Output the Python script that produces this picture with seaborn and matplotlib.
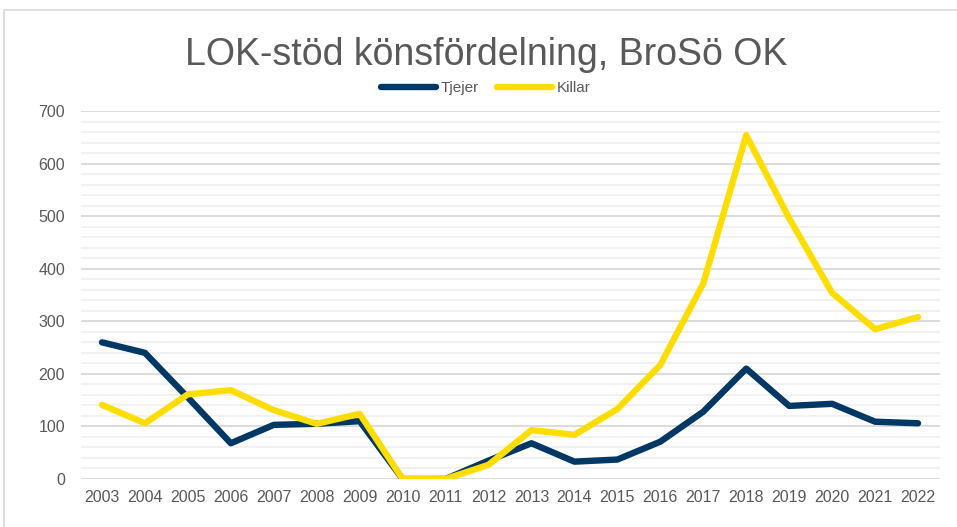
import numpy as np
import pandas as pd
import seaborn as sns
import matplotlib.pyplot as plt
from matplotlib.patches import Rectangle

# ----------------------------------------------------------------------------
# data
# ----------------------------------------------------------------------------
years = list(range(2003, 2023))
tjejer = [260, 240, 155, 68, 103, 105, 110, 0, 0, 35,
          68, 33, 37, 71, 128, 210, 139, 143, 109, 106]
killar = [141, 106, 161, 169, 131, 105, 124, 0, 0, 27,
          93, 84, 133, 217, 372, 654, 496, 354, 285, 308]
series_names = ["Tjejer", "Killar"]
series_colors = ["#003865", "#FFDD00"]

df = pd.DataFrame({"År": years * 2,
                   "Antal": tjejer + killar,
                   "Kön": ["Tjejer"] * len(years) + ["Killar"] * len(years)})

# ----------------------------------------------------------------------------
# plot
# ----------------------------------------------------------------------------
sns.set_style("white")
plt.rcParams['font.family'] = ['Liberation Sans', 'DejaVu Sans']

fig = plt.figure(figsize=(9.57, 5.27), dpi=100)
ax = fig.add_axes([80.5 / 957, 1 - 479 / 527, (939.5 - 80.5) / 957, (479 - 111) / 527])

# gridlines (minor every 20, major every 100)
for v in np.arange(0, 701, 20):
    major = v % 100 == 0
    ax.axhline(v, color="#d9d9d9" if major else "#f0f0f0", lw=1.3, zorder=0)

sns.lineplot(data=df, x="År", y="Antal", hue="Kön", hue_order=series_names,
             palette=series_colors, lw=4.6, ax=ax, legend=False, zorder=3)
for ln in ax.lines:
    ln.set_solid_capstyle("round")
    ln.set_solid_joinstyle("round")

ax.set_xlim(2002.5, 2022.5)
ax.set_ylim(0, 700)
ax.set_xticks(years)
ax.set_xticklabels([str(y) for y in years])
ax.set_yticks(range(0, 701, 100))
ax.tick_params(axis="both", length=0, labelsize=11.5, colors="#595959")
ax.tick_params(axis="y", pad=11)
ax.tick_params(axis="x", pad=8)
ax.set_xlabel("")
ax.set_ylabel("")
for s in ax.spines.values():
    s.set_visible(False)

# title and legend
fig.text(486.5 / 957, 1 - 65 / 527, "LOK-stöd könsfördelning, BroSö OK",
         ha="center", va="baseline", fontsize=27, color="#595959")
handles = [plt.Line2D([], [], color=c, lw=4.6, solid_capstyle="round") for c in series_colors]
fig.legend(handles, series_names, loc="center", bbox_to_anchor=(486 / 957, 1 - 88 / 527),
           ncol=2, frameon=False, fontsize=11, handlelength=3.6, handletextpad=0.3,
           columnspacing=1.2, labelcolor="#595959")

# chart border (cropped on right and bottom)
fig.patches.append(Rectangle((4 / 957, -0.1), 1.2, 1.1 - 10 / 527,
                             transform=fig.transFigure, fill=False,
                             edgecolor="#d9d9d9", lw=1.2))

fig.savefig("out.png", dpi=100)
